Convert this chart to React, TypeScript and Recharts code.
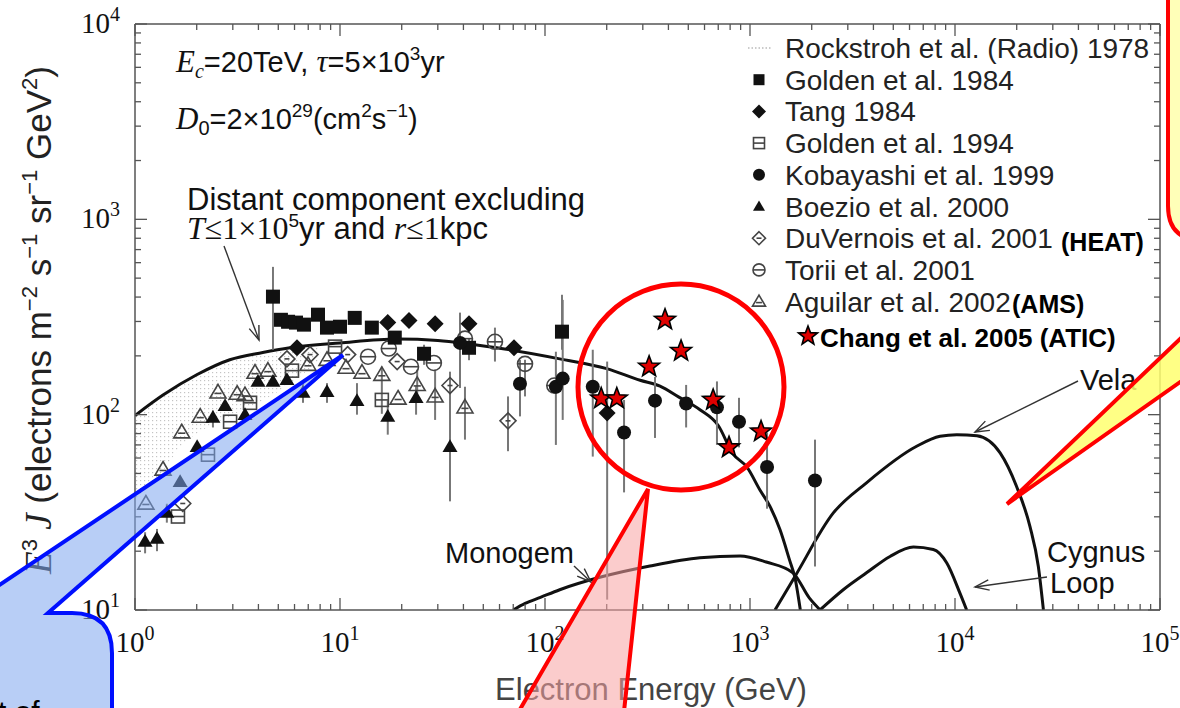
import React from 'react';
import { ComposedChart, Scatter, Line, Area, XAxis, YAxis, ErrorBar } from 'recharts';

const W = 1180;
const H = 708;
const SANS = '"Liberation Sans", Arial, sans-serif';
const SERIF = '"Liberation Serif", "Times New Roman", serif';
const INK = '#111';
const OPEN = '#444';
const AXIS = '#555';

// [energy GeV, E^3 J, error low, error high]
type Pt = [number, number, number?, number?];

const golden1984: Pt[] = [
  [4.71, 402, 215, 571], [5.15, 306], [5.58, 299], [6.1, 296], [6.67, 289], [7.81, 325],
  [8.64, 279], [10.0, 282], [11.8, 313], [14.3, 279], [18.5, 248], [25.7, 205, 180, 228],
  [42.6, 220, 190, 245], [121, 266, 215, 411],
];
const tang1984: Pt[] = [
  [6.17, 220], [17.1, 296], [21.7, 303], [29.1, 292], [42.6, 292], [70.6, 220, 205, 238],
  [201, 102, 11.3, 187],
];
const golden1994: Pt[] = [
  [1.62, 30.1], [2.27, 62.4], [2.91, 92], [3.64, 115], [5.83, 168], [9.46, 223], [16.0, 119, 101, 176],
];
const kobayashi1999: Pt[] = [
  [38.5, 233, 137, 333], [75.5, 144, 98, 191], [113, 139, 70, 210], [122, 153, 94, 387],
  [171, 139, 61, 215], [243, 81, 40, 119], [344, 118, 76, 156], [488, 114, 86, 142],
  [690, 109, 70, 148], [884, 92, 68, 122], [1211, 54, 33, 81], [2075, 46, 16.7, 74.5],
];
const boezio2000: Pt[] = [
  [1.12, 22.4, 19.5, 25], [1.28, 23.2, 20, 26], [1.43, 31.6, 28, 35], [1.66, 45.4], [2.01, 68.5],
  [2.4, 96.6, 86, 105], [2.75, 111], [3.44, 100], [3.98, 148], [4.71, 148], [5.51, 151],
  [6.6, 130, 115, 145], [8.64, 131, 115, 145], [12.1, 118, 100, 145], [17.1, 98, 79, 118],
  [23.5, 122, 100, 140], [34.4, 68.5, 36, 166],
];
const duvernois2001: Pt[] = [
  [1.71, 35.1], [5.51, 193], [7.14, 203], [10.9, 203], [19.0, 187], [34.4, 141], [66.0, 93, 65, 124],
];
const torii2001: Pt[] = [
  [13.7, 198], [17.3, 218], [22.2, 176], [28.7, 184], [40.7, 245], [57.0, 236, 187, 279],
  [79.9, 182, 124, 191], [111, 141],
];
const aguilar2002: Pt[] = [
  [1.13, 35.1], [1.37, 52.4], [1.69, 81.3], [2.08, 97.7], [2.54, 130], [3.15, 128], [3.44, 126],
  [3.85, 164], [4.45, 168], [6.98, 180], [8.64, 191], [10.7, 174], [12.8, 164], [16.0, 160],
  [19.2, 121], [23.8, 142, 115, 170], [29.1, 124, 94, 170], [40.7, 109, 74.5, 139],
];
const chang2005: Pt[] = [
  [188, 121], [224, 121], [322, 176], [385, 306], [461, 212], [661, 119], [790, 68], [1132, 82],
];

// model curves
const distantE = [1, 1.37, 2, 2.9, 4.2, 5.7, 10, 19, 30, 60, 118, 200, 291, 364, 450, 570, 700, 826, 965, 1120, 1250, 1400, 1560, 1660, 1760];
const distantJ = [99, 126, 160, 191, 208, 220, 233, 244, 240, 219, 193, 172, 150, 140, 123, 106, 88, 63, 54, 41, 34, 25.8, 18, 14.5, 10];
const monogemE = [70, 80, 95, 118, 185, 325, 570, 894, 1200, 1620, 1950, 2200];
const monogemJ = [10, 10.8, 11.6, 12.7, 14.7, 16.8, 18.5, 18.9, 17.6, 15.5, 11.5, 10];
const velaE = [1324, 1660, 2550, 3700, 6500, 8450, 10200, 12800, 16600, 19950, 23200, 25500, 27000];
const velaJ = [10, 14.9, 31.4, 44.8, 68.9, 77.5, 79, 78, 63.7, 43, 26.8, 16.7, 10];
const cygnusE = [2195, 2850, 3700, 4820, 6270, 7840, 9120, 10570, 11400];
const cygnusJ = [10, 12.7, 15.5, 18.8, 21, 20.4, 17.4, 12.2, 10];

// Rockstroh radio band
const radioE = [1, 1.3, 1.7, 2.2, 3, 4, 5.5, 8];
const radioLo = [36, 48, 70, 85, 100, 115, 140, 190];
const radioHi = [97, 120, 145, 165, 188, 202, 212, 225];

const xDecades = [1, 10, 100, 1000, 10000, 100000];
const yDecades = [10, 100, 1000, 10000];
const minorSteps = [2, 3, 4, 5, 6, 7, 8, 9];

const legendLabels = [
  'Rockstroh et al. (Radio) 1978', 'Golden et al. 1984', 'Tang 1984', 'Golden et al. 1994',
  'Kobayashi et al. 1999', 'Boezio et al. 2000', 'DuVernois et al. 2001', 'Torii et al. 2001',
  'Aguilar et al. 2002',
];

const withMinor = (dec: number[]) => {
  const out: number[] = [];
  dec.forEach((d, i) => {
    out.push(d);
    if (i < dec.length - 1) minorSteps.forEach((m) => out.push(d * m));
  });
  return out;
};
const xTicks = withMinor(xDecades);
const yTicks = withMinor(yDecades);

const toPoints = (rows: Pt[]) =>
  rows.map(([e, j, lo, hi]) => ({ e, j, err: [lo == null ? 0 : j - lo, hi == null ? 0 : hi - j] }));
const toCurve = (es: number[], js: number[]) => es.map((e, i) => ({ e, j: js[i] }));
const bandData = radioE.map((e, i) => ({ e, band: [radioLo[i], radioHi[i]] }));

const isDecade = (v: number) => Math.abs(Math.log10(v) - Math.round(Math.log10(v))) < 1e-6;
const expOf = (v: number) => Math.round(Math.log10(v));

const BottomTick = (p: any) => {
  const v = p.payload.value;
  const major = isDecade(v);
  return (
    <g>
      <line x1={p.x} y1={p.y} x2={p.x} y2={p.y - (major ? 12 : 6)} stroke={AXIS} strokeWidth={1.3} />
      {major && (
        <text x={p.x} y={p.y + 42} textAnchor="middle" fontFamily={SERIF} fontSize={29} fill={INK}>
          10<tspan fontSize={20} dy={-12}>{expOf(v)}</tspan>
        </text>
      )}
    </g>
  );
};
const TopTick = (p: any) => {
  const major = isDecade(p.payload.value);
  return <line x1={p.x} y1={p.y} x2={p.x} y2={p.y + (major ? 12 : 6)} stroke={AXIS} strokeWidth={1.3} />;
};
const LeftTick = (p: any) => {
  const v = p.payload.value;
  const major = isDecade(v);
  return (
    <g>
      <line x1={p.x} y1={p.y} x2={p.x + (major ? 12 : 6)} y2={p.y} stroke={AXIS} strokeWidth={1.3} />
      {major && (
        <text x={p.x - 15} y={p.y + 9} textAnchor="end" fontFamily={SERIF} fontSize={29} fill={INK}>
          10<tspan fontSize={20} dy={-12}>{expOf(v)}</tspan>
        </text>
      )}
    </g>
  );
};
const RightTick = (p: any) => {
  const major = isDecade(p.payload.value);
  return <line x1={p.x} y1={p.y} x2={p.x - (major ? 12 : 6)} y2={p.y} stroke={AXIS} strokeWidth={1.3} />;
};

// marker shapes
const FilledSquare = ({ cx, cy, s = 14 }: any) => <rect x={cx - s / 2} y={cy - s / 2} width={s} height={s} fill={INK} />;
const FilledDiamond = ({ cx, cy, s = 8.5 }: any) => (
  <path d={`M${cx},${cy - s}L${cx + s},${cy}L${cx},${cy + s}L${cx - s},${cy}Z`} fill={INK} />
);
const OpenSquare = ({ cx, cy, s = 13 }: any) => (
  <g stroke={OPEN} strokeWidth={1.6} fill="none">
    <rect x={cx - s / 2} y={cy - s / 2} width={s} height={s} />
    <line x1={cx - s / 2} y1={cy} x2={cx + s / 2} y2={cy} />
  </g>
);
const FilledCircle = ({ cx, cy, r = 7 }: any) => <circle cx={cx} cy={cy} r={r} fill={INK} />;
const FilledTriangle = ({ cx, cy, s = 7.5 }: any) => (
  <path d={`M${cx},${cy - s}L${cx + s},${cy + s * 0.7}L${cx - s},${cy + s * 0.7}Z`} fill={INK} />
);
const OpenDiamond = ({ cx, cy, s = 8 }: any) => (
  <g stroke={OPEN} strokeWidth={1.6} fill="none">
    <path d={`M${cx},${cy - s}L${cx + s},${cy}L${cx},${cy + s}L${cx - s},${cy}Z`} />
    <line x1={cx - 2.5} y1={cy} x2={cx + 2.5} y2={cy} />
  </g>
);
const OpenCircle = ({ cx, cy, r = 7.5 }: any) => (
  <g stroke={OPEN} strokeWidth={1.6} fill="none">
    <circle cx={cx} cy={cy} r={r} />
    <line x1={cx - r} y1={cy} x2={cx + r} y2={cy} />
  </g>
);
const OpenTriangle = ({ cx, cy, s = 8 }: any) => (
  <g stroke={OPEN} strokeWidth={1.6} fill="none">
    <path d={`M${cx},${cy - s}L${cx + s},${cy + s * 0.7}L${cx - s},${cy + s * 0.7}Z`} />
    <line x1={cx - s * 0.45} y1={cy + 1} x2={cx + s * 0.45} y2={cy + 1} />
  </g>
);
const Star = ({ cx, cy, r = 11 }: any) => {
  const pts: string[] = [];
  for (let i = 0; i < 10; i++) {
    const a = -Math.PI / 2 + (i * Math.PI) / 5;
    const rr = i % 2 === 0 ? r : r * 0.42;
    pts.push(`${cx + rr * Math.cos(a)},${cy + rr * Math.sin(a)}`);
  }
  return <polygon points={pts.join(' ')} fill="#e00000" stroke="#000" strokeWidth={1.6} strokeLinejoin="miter" />;
};

const legendShapes = [
  null,
  (x: number, y: number) => <FilledSquare cx={x} cy={y} s={11} />,
  (x: number, y: number) => <FilledDiamond cx={x} cy={y} s={7} />,
  (x: number, y: number) => <OpenSquare cx={x} cy={y} s={11} />,
  (x: number, y: number) => <FilledCircle cx={x} cy={y} r={6} />,
  (x: number, y: number) => <FilledTriangle cx={x} cy={y} s={6} />,
  (x: number, y: number) => <OpenDiamond cx={x} cy={y} s={6.5} />,
  (x: number, y: number) => <OpenCircle cx={x} cy={y} r={6} />,
  (x: number, y: number) => <OpenTriangle cx={x} cy={y} s={6.5} />,
];

const Arrow = ({ x1, y1, x2, y2 }: any) => {
  const a = Math.atan2(y2 - y1, x2 - x1);
  const L = 15;
  const w1 = [x2 - L * Math.cos(a - 0.35), y2 - L * Math.sin(a - 0.35)];
  const w2 = [x2 - L * Math.cos(a + 0.35), y2 - L * Math.sin(a + 0.35)];
  return (
    <g stroke="#333" strokeWidth={1.4} fill="none">
      <line x1={x1} y1={y1} x2={x2} y2={y2} />
      <polyline points={`${w1[0]},${w1[1]} ${x2},${y2} ${w2[0]},${w2[1]}`} />
    </g>
  );
};

const Overlay = () => {
  const rowY = (i: number) => 48 + i * 31.7;
  return (
    <svg width={W} height={H} style={{ position: 'absolute', left: 0, top: 0, pointerEvents: 'none' }}>
      {/* parameter text */}
      <text x={176} y={72} fontFamily={SANS} fontSize={29} fill={INK}>
        <tspan fontFamily={SERIF} fontStyle="italic" fontSize={31}>E</tspan>
        <tspan fontFamily={SERIF} fontStyle="italic" fontSize={20} dy={6}>c</tspan>
        <tspan dy={-6}>=20TeV, </tspan>
        <tspan fontFamily={SERIF} fontStyle="italic" fontSize={31}>τ</tspan>
        <tspan>=5×10</tspan>
        <tspan fontSize={19} dy={-12}>3</tspan>
        <tspan dy={12}>yr</tspan>
      </text>
      <text x={176} y={129} fontFamily={SANS} fontSize={29} fill={INK}>
        <tspan fontFamily={SERIF} fontStyle="italic" fontSize={31}>D</tspan>
        <tspan fontSize={20} dy={6}>0</tspan>
        <tspan dy={-6}>=2×10</tspan>
        <tspan fontSize={19} dy={-12}>29</tspan>
        <tspan dy={12}>(cm</tspan>
        <tspan fontSize={19} dy={-12}>2</tspan>
        <tspan dy={12}>s</tspan>
        <tspan fontSize={19} dy={-12}>−1</tspan>
        <tspan dy={12}>)</tspan>
      </text>
      <text x={187} y={210} fontFamily={SANS} fontSize={31} fill={INK}>Distant component excluding</text>
      <text x={187} y={239} fontFamily={SANS} fontSize={31} fill={INK}>
        <tspan fontFamily={SERIF} fontStyle="italic" fontSize={32}>T</tspan>
        <tspan fontFamily={SERIF} fontSize={32}>≤1×10</tspan>
        <tspan fontSize={19} dy={-12}>5</tspan>
        <tspan dy={12}>yr and </tspan>
        <tspan fontFamily={SERIF} fontStyle="italic" fontSize={32}>r</tspan>
        <tspan fontFamily={SERIF} fontSize={32}>≤1</tspan>
        <tspan>kpc</tspan>
      </text>
      <Arrow x1={224} y1={246} x2={259} y2={340} />

      {/* curve labels */}
      <text x={445} y={563} fontFamily={SANS} fontSize={29} fill={INK}>Monogem</text>
      <Arrow x1={574} y1={566} x2={591} y2={582} />
      <text x={1080} y={390} fontFamily={SANS} fontSize={29} fill={INK}>Vela</text>
      <Arrow x1={1078} y1={381} x2={975} y2={432} />
      <text x={1047} y={562} fontFamily={SANS} fontSize={29} fill={INK}>Cygnus</text>
      <text x={1050} y={593} fontFamily={SANS} fontSize={29} fill={INK}>Loop</text>
      <Arrow x1={1047} y1={577} x2={975} y2={587} />

      {/* legend */}
      <line x1={748} y1={rowY(0)} x2={772} y2={rowY(0)} stroke="#bbb" strokeWidth={1.5} strokeDasharray="1.5 2" />
      {legendLabels.map((lab, i) => (
        <g key={lab}>
          {legendShapes[i] && legendShapes[i]!(759, rowY(i))}
          <text x={785} y={rowY(i) + 10} fontFamily={SANS} fontSize={28} fill="#222">{lab}</text>
        </g>
      ))}
      <text x={1061} y={251} fontFamily={SANS} fontWeight="bold" fontSize={25} fill="#000">(HEAT)</text>
      <text x={1012} y={313} fontFamily={SANS} fontWeight="bold" fontSize={25} fill="#000">(AMS)</text>
      <Star cx={808} cy={336} r={10} />
      <text x={820} y={347} fontFamily={SANS} fontWeight="bold" fontSize={26} fill="#000">Chang et al. 2005 (ATIC)</text>

      {/* axis titles */}
      <text x={651} y={700} textAnchor="middle" fontFamily={SANS} fontSize={31} fill="#444">Electron Energy (GeV)</text>
      <text transform="rotate(-90, 51, 320)" x={51} y={320} textAnchor="middle" fontFamily={SANS} fontSize={35} fill="#222">
        <tspan fontFamily={SERIF} fontStyle="italic" fontSize={37}>E</tspan>
        <tspan fontSize={22} dy={-14}>3</tspan>
        <tspan fontFamily={SERIF} fontStyle="italic" fontSize={37} dy={14}> J</tspan>
        <tspan> (electrons m</tspan>
        <tspan fontSize={22} dy={-14}>−2</tspan>
        <tspan dy={14}> s</tspan>
        <tspan fontSize={22} dy={-14}>−1</tspan>
        <tspan dy={14}> sr</tspan>
        <tspan fontSize={22} dy={-14}>−1</tspan>
        <tspan dy={14}> GeV</tspan>
        <tspan fontSize={22} dy={-14}>2</tspan>
        <tspan dy={14}>)</tspan>
      </text>

      {/* callouts */}
      <path d="M1168,-10 L1168,206 Q1168,240 1202,240 L1202,-10 Z" fill="#ffffb8" stroke="#ff0000" strokeWidth={4} />
      <path d="M1007,504 L1200,320 L1200,368 Z" fill="#ffff70" fillOpacity={0.85} stroke="#ff0000" strokeWidth={4} strokeLinejoin="miter" />
      <circle cx={681} cy={387} r={103} fill="none" stroke="#ff0000" strokeWidth={5} />
      <path d="M648,489 L508,730 L622,730 Z" fill="#f7a3a3" fillOpacity={0.55} stroke="#ff0000" strokeWidth={4} />
      <path d="M-20,598 L343,355 L48,613 L72,613 Q112,613 112,653 L112,730 L-20,730 Z" fill="#7ea6ee" fillOpacity={0.55} stroke="#0010ff" strokeWidth={4} strokeLinejoin="miter" />
      <text x={-2} y={722} fontFamily={SANS} fontSize={30} fill="#000">t of</text>
    </svg>
  );
};

export default function App() {
  const AX = { stroke: AXIS, strokeWidth: 1.5 };
  const series: [Pt[], any][] = [
    [golden1994, OpenSquare],
    [duvernois2001, OpenDiamond],
    [torii2001, OpenCircle],
    [aguilar2002, OpenTriangle],
    [boezio2000, FilledTriangle],
    [golden1984, FilledSquare],
    [tang1984, FilledDiamond],
    [kobayashi1999, FilledCircle],
  ];
  return (
    <div style={{ position: 'absolute', left: 0, top: 0, width: W, height: H, overflow: 'hidden', background: '#fff' }}>
      <ComposedChart width={W} height={H} data={bandData} margin={{ top: 23, right: 19, bottom: 97, left: 134 }}>
        <defs>
          <pattern id="stip" width="4" height="4" patternUnits="userSpaceOnUse">
            <rect x="0" y="0" width="1.2" height="1.2" fill="#c4c4c4" />
          </pattern>
        </defs>
        <XAxis dataKey="e" type="number" scale="log" domain={[1, 100000]} ticks={xTicks} interval={0}
          height={1} tickSize={0} tickMargin={0} tickLine={false} tick={BottomTick} axisLine={AX} allowDataOverflow />
        <XAxis xAxisId="top" orientation="top" dataKey="e" type="number" scale="log" domain={[1, 100000]} ticks={xTicks}
          interval={0} height={1} tickSize={0} tickMargin={0} tickLine={false} tick={TopTick} axisLine={AX} allowDataOverflow />
        <YAxis dataKey="j" type="number" scale="log" domain={[10, 10000]} ticks={yTicks} interval={0}
          width={1} tickSize={0} tickMargin={0} tickLine={false} tick={LeftTick} axisLine={AX} allowDataOverflow />
        <YAxis yAxisId="right" orientation="right" type="number" scale="log" domain={[10, 10000]} ticks={yTicks}
          interval={0} width={1} tickSize={0} tickMargin={0} tickLine={false} tick={RightTick} axisLine={AX} allowDataOverflow />
        <Area dataKey="band" type="monotone" stroke="none" fill="url(#stip)" fillOpacity={1} isAnimationActive={false} />
        <Line data={toCurve(distantE, distantJ)} dataKey="j" type="monotone" stroke={INK} strokeWidth={3} dot={false} isAnimationActive={false} />
        <Line data={toCurve(monogemE, monogemJ)} dataKey="j" type="monotone" stroke={INK} strokeWidth={3} dot={false} isAnimationActive={false} />
        <Line data={toCurve(velaE, velaJ)} dataKey="j" type="monotone" stroke={INK} strokeWidth={3} dot={false} isAnimationActive={false} />
        <Line data={toCurve(cygnusE, cygnusJ)} dataKey="j" type="monotone" stroke={INK} strokeWidth={3} dot={false} isAnimationActive={false} />
        {series.map(([rows, Shape], i) => (
          <Scatter key={i} data={toPoints(rows)} dataKey="j" shape={(p: any) => <Shape cx={p.cx} cy={p.cy} />} isAnimationActive={false}>
            <ErrorBar dataKey="err" direction="y" width={0} stroke="#777" strokeWidth={2} isAnimationActive={false} />
          </Scatter>
        ))}
        <Scatter data={toPoints(chang2005)} dataKey="j" shape={(p: any) => <Star cx={p.cx} cy={p.cy} />} isAnimationActive={false} />
      </ComposedChart>
      <Overlay />
    </div>
  );
}
